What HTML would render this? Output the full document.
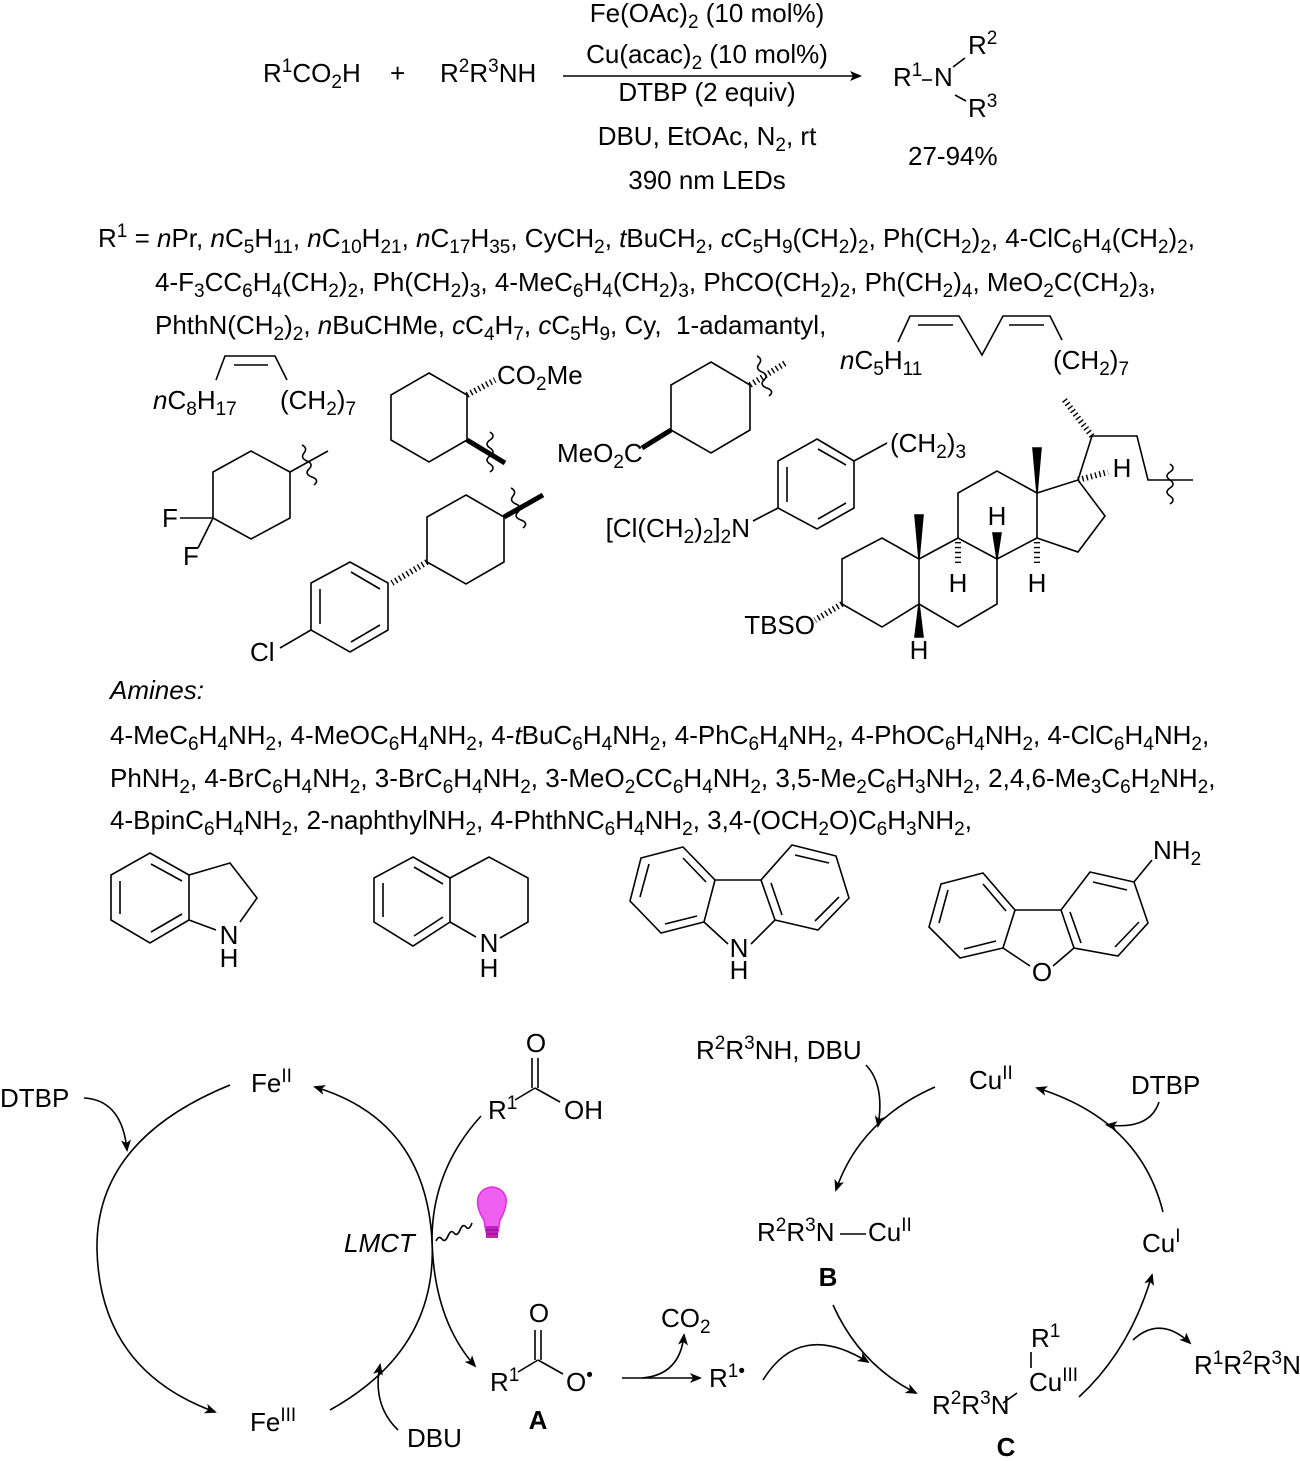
<!DOCTYPE html>
<html><head><meta charset="utf-8"><style>
body{margin:0;background:#fff;}
#w{position:relative;width:1300px;height:1461px;overflow:hidden;background:#fff;font-family:"Liberation Sans",Arial,sans-serif;color:#000;}
.t{position:absolute;white-space:nowrap;font-size:26px;line-height:26px;margin-top:-3px;}
.t sub,.t sup{font-size:19px;line-height:0;}
.t sub{vertical-align:-6px;}
.t sup{vertical-align:10px;}
.c{transform:translateX(-50%);}
.r{transform:translateX(-100%);}
svg{position:absolute;left:0;top:0;}
</style></head><body><div id="w">
<svg width="1300" height="1461" viewBox="0 0 1300 1461" fill="none" stroke="#000" stroke-width="1.6">
<defs><marker id="ah" markerWidth="12" markerHeight="10" refX="10" refY="5" orient="auto" markerUnits="userSpaceOnUse"><path d="M0,0 L12,5 L0,10 L3,5 Z" fill="#000" stroke="none"/></marker></defs>
<line x1="563" y1="76" x2="860" y2="76" marker-end="url(#ah)"/>
<line x1="953" y1="67" x2="965" y2="58"/><line x1="955" y1="95" x2="966" y2="101"/>
<line x1="922" y1="80" x2="932" y2="80"/>
<polyline points="216,380 225,356 275,356 287,380"/><line x1="234" y1="365" x2="268" y2="365"/>
<polyline points="898,342 910,316 959,316 982,355 1003,316 1050,316 1062,340"/>
<line x1="918" y1="325" x2="953" y2="325"/><line x1="1009" y1="325" x2="1044" y2="325"/>
<polygon points="429,373 467,395 467,440 429,462 391,440 391,395"/>
<line x1="467" y1="395" x2="495" y2="380" stroke-width="6" stroke-dasharray="1.4 3"/>
<line x1="467" y1="440" x2="505" y2="463" stroke-width="5"/>
<path d="M490,432 q6,4 0,8 t0,8 t0,8 t0,8 t0,8"/>
<polygon points="251,451 290,472 290,518 251,539 213,518 213,472"/>
<line x1="290" y1="472" x2="328" y2="451"/>
<path d="M302,445 q6,3 2,8 t3,8 t2,8 t3,8 t2,8"/>
<line x1="180" y1="518" x2="213" y2="518"/><line x1="213" y1="518" x2="198" y2="548"/>
<polygon points="466,495 504,517 504,562 466,584 427,562 427,517"/>
<line x1="504" y1="517" x2="543" y2="495" stroke-width="5"/>
<path d="M511,488 q6,3 2,8 t3,8 t2,8 t3,8 t2,8"/>
<line x1="427" y1="562" x2="392" y2="583" stroke-width="6" stroke-dasharray="1.4 3"/>
<polygon points="350,562 388,583 388,630 350,652 311,630 311,583"/>
<line x1="351" y1="572" x2="380" y2="589"/><line x1="320" y1="589" x2="320" y2="624"/><line x1="351" y1="642" x2="380" y2="625"/>
<line x1="311" y1="630" x2="280" y2="648"/>
<polygon points="711,362 750,385 750,430 711,453 671,430 671,385"/>
<line x1="671" y1="430" x2="642" y2="448" stroke-width="5"/>
<line x1="750" y1="385" x2="787" y2="362" stroke-width="6" stroke-dasharray="1.4 3"/>
<path d="M757,356 q6,3 2,8 t3,8 t2,8 t3,8 t2,8"/>
<polygon points="817,439 854,461 854,508 817,529 778,508 778,461"/>
<line x1="787" y1="467" x2="787" y2="502"/><line x1="818" y1="449" x2="846" y2="465"/><line x1="818" y1="519" x2="846" y2="503"/>
<line x1="854" y1="461" x2="887" y2="443"/><line x1="778" y1="508" x2="753" y2="521"/>
<polygon points="842,559 882,538 919,559 919,604 882,627 842,604"/>
<polyline points="919,559 958,538 997,559 997,604 958,627 919,604"/>
<polyline points="958,538 958,493 997,471 1037,493 1037,538 997,559"/>
<polyline points="1037,493 1078,480 1105,516 1078,552 1037,538"/>
<polygon points="919,559 915,515 923,515" fill="#000"/>
<polygon points="1037,493 1033,448 1041,448" fill="#000"/>
<polygon points="997,559 993,533 1001,533" fill="#000"/>
<polygon points="919,604 915,637 923,637" fill="#000"/>
<line x1="958" y1="542" x2="958" y2="566" stroke-width="6" stroke-dasharray="1.4 3.5"/>
<line x1="1037" y1="542" x2="1037" y2="566" stroke-width="6" stroke-dasharray="1.4 3.5"/>
<line x1="842" y1="604" x2="815" y2="620" stroke-width="6" stroke-dasharray="1.4 3"/>
<line x1="1078" y1="480" x2="1108" y2="472" stroke-width="6" stroke-dasharray="1.4 3"/>
<polyline points="1078,480 1092,436 1137,436 1148,480 1193,480"/>
<line x1="1092" y1="436" x2="1063" y2="398" stroke-width="6" stroke-dasharray="1.4 3"/>
<path d="M1170,464 q6,4 0,8 t0,8 t0,8 t0,8 t0,8"/>
<polygon points="150,853 189,875 189,920 150,943 111,920 111,875"/>
<line x1="151" y1="864" x2="182" y2="881"/><line x1="120" y1="881" x2="120" y2="914"/><line x1="151" y1="932" x2="182" y2="914"/>
<polyline points="189,875 230,863 257,898 240,922"/><line x1="189" y1="920" x2="216" y2="930"/>
<polygon points="413,857 450,878 450,922 413,946 374,922 374,878"/>
<line x1="414" y1="867" x2="443" y2="884"/><line x1="383" y1="883" x2="383" y2="917"/><line x1="414" y1="936" x2="443" y2="917"/>
<polyline points="450,878 489,857 528,878 528,922 500,938"/><line x1="450" y1="922" x2="476" y2="937"/>
<polygon points="683,847 715,880 704,922 661,933 630,901 641,858"/>
<line x1="683" y1="858" x2="706" y2="882"/><line x1="640" y1="897" x2="649" y2="864"/><line x1="665" y1="924" x2="697" y2="916"/>
<polygon points="792,845 836,856 849,898 818,930 775,920 761,880"/>
<line x1="795" y1="855" x2="829" y2="863"/><line x1="839" y1="897" x2="815" y2="921"/><line x1="771" y1="883" x2="782" y2="915"/>
<line x1="715" y1="880" x2="761" y2="880"/><line x1="704" y1="922" x2="728" y2="944"/><line x1="775" y1="920" x2="751" y2="944"/>
<polygon points="983,873 1015,910 1003,948 960,958 929,927 941,884"/>
<line x1="983" y1="884" x2="1006" y2="911"/><line x1="939" y1="923" x2="948" y2="890"/><line x1="964" y1="949" x2="996" y2="941"/>
<polygon points="1090,872 1134,882 1148,923 1118,956 1074,948 1061,910"/>
<line x1="1093" y1="882" x2="1127" y2="890"/><line x1="1139" y1="922" x2="1115" y2="947"/><line x1="1070" y1="912" x2="1081" y2="943"/>
<line x1="1015" y1="910" x2="1061" y2="910"/><line x1="1003" y1="948" x2="1030" y2="966"/><line x1="1074" y1="948" x2="1053" y2="966"/>
<line x1="1134" y1="882" x2="1152" y2="860"/>
<path d="M230,1085 Q95,1140 97,1250 Q100,1370 215,1412" marker-end="url(#ah)"/>
<path d="M330,1410 Q438,1350 432,1240 Q425,1120 315,1087" marker-end="url(#ah)"/>
<path d="M84,1098 Q122,1100 127,1150" marker-end="url(#ah)"/>
<path d="M398,1430 Q372,1405 380,1365" marker-end="url(#ah)"/>
<path d="M481,1116 Q432,1170 432,1240 Q434,1320 475,1366" marker-end="url(#ah)"/>
<path d="M436,1241 q3,-6 6,-2 t6,-3 t6,-3 t6,-3 t6,-3 t6,-4"/>
<path d="M486,1232 L484,1220 Q476,1208 478,1198 Q481,1188 492,1187 Q503,1188 506,1198 Q507,1208 500,1220 L498,1232 Z" fill="#f060f0" stroke="#e030e0"/>
<rect x="486" y="1226" width="12" height="12" fill="#c020c0" stroke="none"/>
<line x1="486" y1="1230" x2="498" y2="1230" stroke="#801080" stroke-width="1"/><line x1="486" y1="1234" x2="498" y2="1234" stroke="#801080" stroke-width="1"/>
<line x1="532" y1="1058" x2="532" y2="1088"/><line x1="538" y1="1058" x2="538" y2="1088"/>
<line x1="535" y1="1088" x2="515" y2="1100"/><line x1="535" y1="1088" x2="560" y2="1102"/>
<line x1="535" y1="1330" x2="535" y2="1360"/><line x1="541" y1="1330" x2="541" y2="1360"/>
<line x1="538" y1="1360" x2="518" y2="1372"/><line x1="538" y1="1360" x2="563" y2="1374"/>
<line x1="622" y1="1378" x2="700" y2="1378" marker-end="url(#ah)"/>
<path d="M642,1378 Q680,1375 684,1335" marker-end="url(#ah)"/>
<path d="M935,1087 Q860,1120 836,1190" marker-end="url(#ah)"/>
<path d="M866,1065 Q885,1085 878,1126" marker-end="url(#ah)"/>
<path d="M833,1305 Q860,1365 916,1393" marker-end="url(#ah)"/>
<path d="M763,1380 Q800,1320 868,1362" marker-end="url(#ah)"/>
<path d="M1079,1397 Q1130,1350 1152,1275" marker-end="url(#ah)"/>
<path d="M1133,1340 Q1160,1315 1190,1343" marker-end="url(#ah)"/>
<path d="M1163,1212 Q1140,1120 1037,1088" marker-end="url(#ah)"/>
<path d="M1159,1102 Q1150,1130 1107,1125" marker-end="url(#ah)"/>
<line x1="1031" y1="1352" x2="1031" y2="1368"/><line x1="1017" y1="1393" x2="1003" y2="1403"/>
<line x1="840" y1="1234" x2="866" y2="1234"/>
</svg>
<div class="t" style="left:263px;top:63px">R<sup>1</sup>CO<sub>2</sub>H</div>
<div class="t" style="left:390px;top:63px">+</div>
<div class="t" style="left:440px;top:63px">R<sup>2</sup>R<sup>3</sup>NH</div>
<div class="t c" style="left:707px;top:3px">Fe(OAc)<sub>2</sub> (10 mol%)</div>
<div class="t c" style="left:707px;top:44px">Cu(acac)<sub>2</sub> (10 mol%)</div>
<div class="t c" style="left:707px;top:82px">DTBP (2 equiv)</div>
<div class="t c" style="left:707px;top:126px">DBU, EtOAc, N<sub>2</sub>, rt</div>
<div class="t c" style="left:707px;top:170px">390 nm LEDs</div>
<div class="t" style="left:893px;top:67px">R<sup>1</sup></div>
<div class="t" style="left:934px;top:67px">N</div>
<div class="t" style="left:968px;top:35px">R<sup>2</sup></div>
<div class="t" style="left:968px;top:98px">R<sup>3</sup></div>
<div class="t" style="left:908px;top:146px">27-94%</div>
<div class="t" style="left:98px;top:228px">R<sup>1</sup> = <i>n</i>Pr, <i>n</i>C<sub>5</sub>H<sub>11</sub>, <i>n</i>C<sub>10</sub>H<sub>21</sub>, <i>n</i>C<sub>17</sub>H<sub>35</sub>, CyCH<sub>2</sub>, <i>t</i>BuCH<sub>2</sub>, <i>c</i>C<sub>5</sub>H<sub>9</sub>(CH<sub>2</sub>)<sub>2</sub>, Ph(CH<sub>2</sub>)<sub>2</sub>, 4-ClC<sub>6</sub>H<sub>4</sub>(CH<sub>2</sub>)<sub>2</sub>,</div>
<div class="t" style="left:155px;top:272px">4-F<sub>3</sub>CC<sub>6</sub>H<sub>4</sub>(CH<sub>2</sub>)<sub>2</sub>, Ph(CH<sub>2</sub>)<sub>3</sub>, 4-MeC<sub>6</sub>H<sub>4</sub>(CH<sub>2</sub>)<sub>3</sub>, PhCO(CH<sub>2</sub>)<sub>2</sub>, Ph(CH<sub>2</sub>)<sub>4</sub>, MeO<sub>2</sub>C(CH<sub>2</sub>)<sub>3</sub>,</div>
<div class="t" style="left:155px;top:315px">PhthN(CH<sub>2</sub>)<sub>2</sub>, <i>n</i>BuCHMe, <i>c</i>C<sub>4</sub>H<sub>7</sub>, <i>c</i>C<sub>5</sub>H<sub>9</sub>, Cy, &nbsp;1-adamantyl,</div>
<div class="t" style="left:153px;top:390px"><i>n</i>C<sub>8</sub>H<sub>17</sub></div>
<div class="t" style="left:280px;top:390px">(CH<sub>2</sub>)<sub>7</sub></div>
<div class="t" style="left:497px;top:365px">CO<sub>2</sub>Me</div>
<div class="t" style="left:840px;top:350px"><i>n</i>C<sub>5</sub>H<sub>11</sub></div>
<div class="t" style="left:1053px;top:350px">(CH<sub>2</sub>)<sub>7</sub></div>
<div class="t" style="left:557px;top:443px">MeO<sub>2</sub>C</div>
<div class="t" style="left:890px;top:433px">(CH<sub>2</sub>)<sub>3</sub></div>
<div class="t" style="left:162px;top:508px">F</div>
<div class="t" style="left:183px;top:546px">F</div>
<div class="t r" style="left:750px;top:518px">[Cl(CH<sub>2</sub>)<sub>2</sub>]<sub>2</sub>N</div>
<div class="t" style="left:250px;top:642px">Cl</div>
<div class="t r" style="left:815px;top:615px">TBSO</div>
<div class="t c" style="left:997px;top:506px">H</div>
<div class="t c" style="left:958px;top:573px">H</div>
<div class="t c" style="left:1037px;top:573px">H</div>
<div class="t c" style="left:919px;top:640px">H</div>
<div class="t c" style="left:1122px;top:458px">H</div>
<div class="t" style="left:110px;top:680px"><i>Amines:</i></div>
<div class="t" style="left:110px;top:725px">4-MeC<sub>6</sub>H<sub>4</sub>NH<sub>2</sub>, 4-MeOC<sub>6</sub>H<sub>4</sub>NH<sub>2</sub>, 4-<i>t</i>BuC<sub>6</sub>H<sub>4</sub>NH<sub>2</sub>, 4-PhC<sub>6</sub>H<sub>4</sub>NH<sub>2</sub>, 4-PhOC<sub>6</sub>H<sub>4</sub>NH<sub>2</sub>, 4-ClC<sub>6</sub>H<sub>4</sub>NH<sub>2</sub>,</div>
<div class="t" style="left:110px;top:768px">PhNH<sub>2</sub>, 4-BrC<sub>6</sub>H<sub>4</sub>NH<sub>2</sub>, 3-BrC<sub>6</sub>H<sub>4</sub>NH<sub>2</sub>, 3-MeO<sub>2</sub>CC<sub>6</sub>H<sub>4</sub>NH<sub>2</sub>, 3,5-Me<sub>2</sub>C<sub>6</sub>H<sub>3</sub>NH<sub>2</sub>, 2,4,6-Me<sub>3</sub>C<sub>6</sub>H<sub>2</sub>NH<sub>2</sub>,</div>
<div class="t" style="left:110px;top:810px">4-BpinC<sub>6</sub>H<sub>4</sub>NH<sub>2</sub>, 2-naphthylNH<sub>2</sub>, 4-PhthNC<sub>6</sub>H<sub>4</sub>NH<sub>2</sub>, 3,4-(OCH<sub>2</sub>O)C<sub>6</sub>H<sub>3</sub>NH<sub>2</sub>,</div>
<div class="t c" style="left:229px;top:925px">N</div><div class="t c" style="left:229px;top:948px">H</div>
<div class="t c" style="left:489px;top:933px">N</div><div class="t c" style="left:489px;top:958px">H</div>
<div class="t c" style="left:739px;top:938px">N</div><div class="t c" style="left:739px;top:960px">H</div>
<div class="t c" style="left:1042px;top:962px">O</div>
<div class="t" style="left:1153px;top:840px">NH<sub>2</sub></div>
<div class="t" style="left:0px;top:1088px">DTBP</div>
<div class="t" style="left:251px;top:1073px">Fe<sup>II</sup></div>
<div class="t" style="left:250px;top:1412px">Fe<sup>III</sup></div>
<div class="t" style="left:344px;top:1233px"><i>LMCT</i></div>
<div class="t" style="left:407px;top:1428px">DBU</div>
<div class="t c" style="left:536px;top:1033px">O</div>
<div class="t" style="left:488px;top:1100px">R<sup>1</sup></div>
<div class="t" style="left:564px;top:1100px">OH</div>
<div class="t c" style="left:539px;top:1303px">O</div>
<div class="t" style="left:490px;top:1372px">R<sup>1</sup></div>
<div class="t" style="left:566px;top:1372px">O<sup>•</sup></div>
<div class="t c" style="left:538px;top:1410px"><b>A</b></div>
<div class="t" style="left:661px;top:1308px">CO<sub>2</sub></div>
<div class="t" style="left:709px;top:1368px">R<sup>1•</sup></div>
<div class="t" style="left:696px;top:1040px">R<sup>2</sup>R<sup>3</sup>NH, DBU</div>
<div class="t" style="left:969px;top:1070px">Cu<sup>II</sup></div>
<div class="t" style="left:1131px;top:1075px">DTBP</div>
<div class="t" style="left:757px;top:1222px">R<sup>2</sup>R<sup>3</sup>N</div>
<div class="t" style="left:868px;top:1222px">Cu<sup>II</sup></div>
<div class="t c" style="left:828px;top:1267px"><b>B</b></div>
<div class="t" style="left:1142px;top:1233px">Cu<sup>I</sup></div>
<div class="t" style="left:1031px;top:1328px">R<sup>1</sup></div>
<div class="t" style="left:1029px;top:1372px">Cu<sup>III</sup></div>
<div class="t" style="left:932px;top:1395px">R<sup>2</sup>R<sup>3</sup>N</div>
<div class="t c" style="left:1006px;top:1437px"><b>C</b></div>
<div class="t" style="left:1194px;top:1355px">R<sup>1</sup>R<sup>2</sup>R<sup>3</sup>N</div>
</div></body></html>
